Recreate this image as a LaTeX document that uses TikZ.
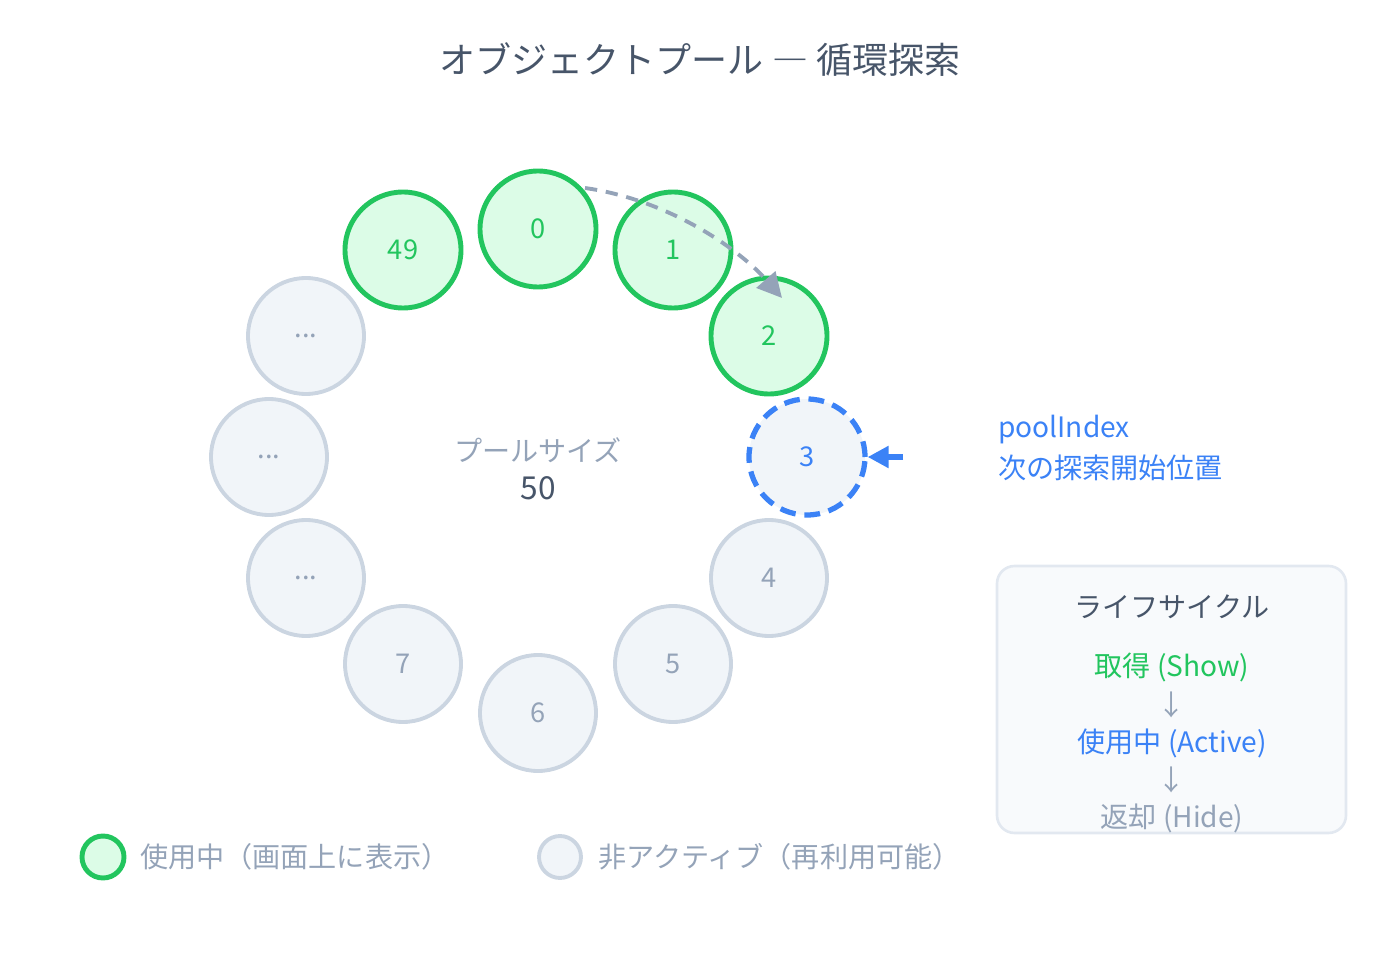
\documentclass[tikz,border=0pt]{standalone}
\usepackage{fontspec}
\setmainfont{Noto Sans CJK JP}
\usetikzlibrary{arrows.meta}
\definecolor{gS}{HTML}{22C55E}\definecolor{gF}{HTML}{DCFCE7}
\definecolor{iS}{HTML}{CBD5E1}\definecolor{iF}{HTML}{F1F5F9}
\definecolor{bl}{HTML}{3B82F6}\definecolor{tg}{HTML}{94A3B8}
\definecolor{dk}{HTML}{475569}\definecolor{bx}{HTML}{F8FAFC}\definecolor{bxs}{HTML}{E2E8F0}
\definecolor{ar}{HTML}{94A3B8}
\begin{document}
\begin{tikzpicture}[x=0.02cm,y=-0.02cm,
 act/.style={circle,draw=gS,fill=gF,line width=2.8pt,minimum size=116*0.02cm,inner sep=0,text=gS,font=\fontsize{15.5}{18}\selectfont},
 ina/.style={circle,draw=iS,fill=iF,line width=2.2pt,minimum size=116*0.02cm,inner sep=0,text=tg,font=\fontsize{15.5}{18}\selectfont},
 lbl/.style={font=\fontsize{16}{19}\selectfont}]
\useasboundingbox (0,0) rectangle (1400,969);
\node[font=\fontsize{20.5}{24}\selectfont,text=dk] (title) at (700,60) {オブジェクトプール ― 循環探索};
\node[act] (n0) at (538,229) {0};
\node[act] (n1) at (673,250) {1};
\node[act] (n49) at (403,250) {49};
\node[act] (n2) at (769,336) {2};
\node[ina,draw=bl,dashed,dash pattern=on 9pt off 5pt,line width=3pt,text=bl] (n3) at (807,457) {3};
\node[ina] (n4) at (769,578) {4};
\node[ina] (n5) at (673,664) {5};
\node[ina] (n6) at (538,713) {6};
\node[ina] (n7) at (403,664) {7};
\node[ina] (d1) at (306,578) {...};
\node[ina] (d2) at (269,457) {...};
\node[ina] (d3) at (306,336) {...};
\coordinate (as) at (585,188);
\coordinate (ae) at (782,298);
\draw[ar,line width=2.2pt,dashed,dash pattern=on 7pt off 5pt,-{Triangle[length=14pt,width=14pt]}] (as) .. controls (670,200) and (740,250) .. (ae);
\node[lbl,text=tg] (ps) at (538,450) {プールサイズ};
\node[lbl,text=dk,font=\fontsize{18}{20}\selectfont] (psn) at (538,488) {50};
\coordinate (bs) at (903,457);
\draw[bl,line width=3pt,-{Triangle[length=12pt,width=12pt]}] (bs) -- (n3.east);
\node[lbl,text=bl,anchor=west] (pi) at (992,430) {poolIndex};
\node[lbl,text=bl,anchor=west] (pi2) at (992,468) {次の探索開始位置};
\node[draw=bxs,fill=bx,line width=1.5pt,rounded corners=10pt,minimum width=349*0.02cm,minimum height=267*0.02cm] (box) at (1171.5,699.5) {};
\node[lbl,text=dk] (lt) at (1172,607) {ライフサイクル};
\node[lbl,text=gS] (l1) at (1172,667) {取得 (Show)};
\node[lbl,text=tg] (a1) at (1172,705) {↓};
\node[lbl,text=bl] (l2) at (1172,743) {使用中 (Active)};
\node[lbl,text=tg] (a2) at (1172,780) {↓};
\node[lbl,text=tg] (l3) at (1172,818) {返却 (Hide)};
\node[circle,draw=gS,fill=gF,line width=2.8pt,minimum size=42*0.02cm] (lg1) at (103,857) {};
\node[lbl,text=tg,anchor=west] (lt1) at (134,857) {使用中（画面上に表示）};
\node[circle,draw=iS,fill=iF,line width=2.2pt,minimum size=42*0.02cm] (lg2) at (560,857) {};
\node[lbl,text=tg,anchor=west] (lt2) at (592,857) {非アクティブ（再利用可能）};
\end{tikzpicture}
\end{document}
